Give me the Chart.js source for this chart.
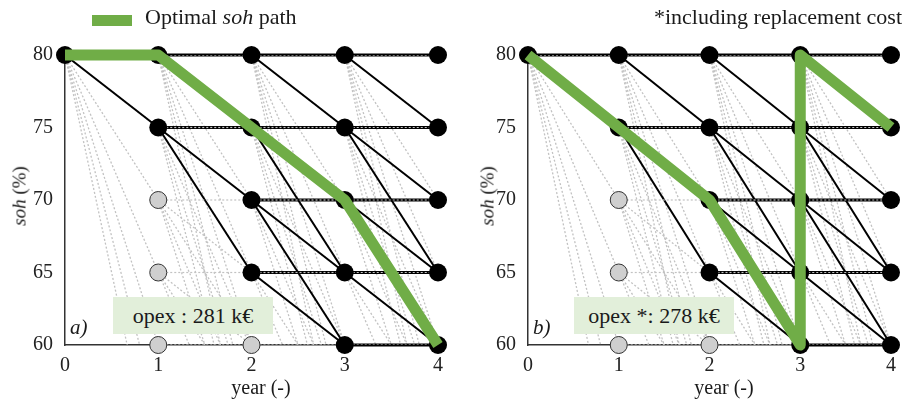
<!DOCTYPE html>
<html>
<head>
<meta charset="utf-8">
<script src="https://cdn.jsdelivr.net/npm/chart.js@4/dist/chart.umd.min.js"></script>
<style>
  html, body { margin: 0; padding: 0; background: #fff; }
  body { width: 905px; height: 399px; overflow: hidden; position: relative;
         font-family: "Liberation Serif", "Times New Roman", serif; color: #1a1a1a; }
  .panel { position: absolute; top: 0; height: 399px; }
  #wrapA { left: 0; width: 460px; }
  #wrapB { left: 460px; width: 445px; }
  .txt { position: absolute; white-space: nowrap; line-height: 1; }
  .legend-swatch { position: absolute; left: 92px; top: 15px; width: 40px; height: 11px; background: #70AD47; }
  .ytitle { position: absolute; top: 196px; font-size: 19px; line-height: 1;
            transform: translate(-50%, -50%) rotate(-90deg); white-space: nowrap; }
  .xtitle { position: absolute; top: 377px; font-size: 20px; line-height: 1; transform: translateX(-50%); white-space: nowrap; }
  .opex { position: absolute; top: 297px; height: 37px; width: 160px; background: #E2EFDA;
          font-size: 22px; line-height: 37px; text-align: center; white-space: nowrap; }
  .tag { position: absolute; top: 317px; font-size: 21px; font-style: italic; line-height: 1; }
</style>
</head>
<body>
<div class="panel" id="wrapA"><canvas id="chartA" width="460" height="399"></canvas></div>
<div class="panel" id="wrapB"><canvas id="chartB" width="445" height="399"></canvas></div>

<div class="legend-swatch"></div>
<div class="txt" style="left:145px; top:6px; font-size:22px;">Optimal <i>soh</i> path</div>
<div class="txt" style="right:3px; top:6px; font-size:22px;">*including replacement cost</div>

<div class="ytitle" style="left:19px;"><i>soh</i> (%)</div>
<div class="ytitle" style="left:487px;"><i>soh</i> (%)</div>
<div class="xtitle" style="left:261px;">year (-)</div>
<div class="xtitle" style="left:724px;">year (-)</div>

<div class="opex" id="opexA" style="left:113px;"></div>
<div class="opex" id="opexB" style="left:574px;"></div>
<div class="tag" style="left:70px;">a)</div>
<div class="tag" style="left:533px;">b)</div>

<script>
// Planning horizon and discretised state-of-health levels
const years = [0, 1, 2, 3, 4];
const sohLevels = [80, 75, 70, 65, 60];
const sohStep = 5;
// the full transition grid continues below the plotted range
const gridFloor = 50;
const startSoh = 80;

// admissible next-year soh for each current soh
const allowedNext = {
  80: [80, 75],
  75: [75, 70, 65],
  70: [70, 65, 60],
  65: [65, 60],
  60: [60]
};

// optimal trajectories (b allows a battery replacement back to 80 %)
const pathYearsA = [0, 1, 2, 3, 4];
const pathSohA   = [80, 80, 75, 70, 60];
const pathYearsB = [0, 1, 2, 3, 3, 4];
const pathSohB   = [80, 75, 70, 60, 80, 75];

const opexA = 281;
const opexB = 278;

document.getElementById('opexA').textContent = 'opex : ' + opexA + ' k€';
document.getElementById('opexB').textContent = 'opex *: ' + opexB + ' k€';

// nodes reachable from the starting state
const reachable = [new Set([startSoh])];
for (let t = 1; t < years.length; t++) {
  const next = new Set();
  reachable[t - 1].forEach(s => (allowedNext[s] || []).forEach(n => next.add(n)));
  reachable.push(next);
}
// states shown in each year: only the start in year 0, the full grid afterwards
const shownStates = years.map((_, t) => t === 0 ? [startSoh] : sohLevels);

const GREEN = '#70AD47';
const FONT = "'Liberation Serif', 'Times New Roman', serif";

function edge(t, s, n, style) {
  return Object.assign({
    data: [{x: years[t], y: s}, {x: years[t + 1], y: n}],
    showLine: true, pointRadius: 0
  }, style);
}

function buildDatasets(pathYears, pathSoh) {
  const sets = [];
  // every downward transition of the grid, dotted (level ones sit on top of the solid edges)
  for (let t = 0; t < years.length - 1; t++) {
    for (const s of shownStates[t]) {
      for (let n = s; n >= gridFloor; n -= sohStep) {
        sets.push(edge(t, s, n, {
          borderColor: '#c2c2c2', borderWidth: n === s ? 1.2 : 1.3,
          borderDash: [2, 2], order: n === s ? 2.5 : 4
        }));
      }
    }
  }
  // admissible transitions from reachable nodes
  for (let t = 0; t < years.length - 1; t++) {
    reachable[t].forEach(s => {
      allowedNext[s].forEach(n => {
        sets.push(edge(t, s, n, {
          borderColor: '#000', borderWidth: n === s ? 3 : 2, order: 3, clip: false
        }));
      });
    });
  }
  // nodes
  const black = [], grey = [];
  years.forEach((yr, t) => shownStates[t].forEach(s => {
    (reachable[t].has(s) ? black : grey).push({x: yr, y: s});
  }));
  sets.push({ data: grey, pointRadius: 8.5, pointBackgroundColor: '#cfcfcf',
              pointBorderColor: '#333', pointBorderWidth: 1, showLine: false, order: 2, clip: false });
  sets.push({ data: black, pointRadius: 9, pointBackgroundColor: '#000',
              pointBorderColor: '#000', pointBorderWidth: 0, showLine: false, order: 1, clip: false });
  // optimal path
  sets.push({
    data: pathYears.map((x, i) => ({x, y: pathSoh[i]})),
    showLine: true, borderColor: GREEN, borderWidth: 11, pointRadius: 0,
    borderJoinStyle: 'round', borderCapStyle: 'butt', order: 0, clip: false
  });
  return sets;
}

function makeChart(id, pathYears, pathSoh, yAxisWidth, padRight) {
  return new Chart(document.getElementById(id), {
    type: 'scatter',
    data: { datasets: buildDatasets(pathYears, pathSoh) },
    options: {
      responsive: false,
      animation: false,
      events: [],
      layout: { padding: { left: 0, right: padRight, top: 55, bottom: 0 } },
      plugins: { legend: { display: false }, tooltip: { enabled: false } },
      elements: { line: { tension: 0 } },
      scales: {
        x: {
          type: 'linear', min: 0, max: 4,
          grid: { display: false, drawTicks: false },
          border: { display: true, color: '#333', width: 1.5 },
          ticks: { stepSize: 1, padding: 9, color: '#222', font: { family: FONT, size: 20 } },
          afterFit(scale) { scale.height = 54; }
        },
        y: {
          type: 'linear', min: 60, max: 80,
          grid: { display: false, drawTicks: false },
          border: { display: true, color: '#333', width: 1.5 },
          ticks: { stepSize: 5, padding: 12, color: '#222', font: { family: FONT, size: 20 } },
          afterFit(scale) { scale.width = yAxisWidth; }
        }
      }
    }
  });
}

makeChart('chartA', pathYearsA, pathSohA, 65, 22);
makeChart('chartB', pathYearsB, pathSohB, 68, 3);
</script>
</body>
</html>
